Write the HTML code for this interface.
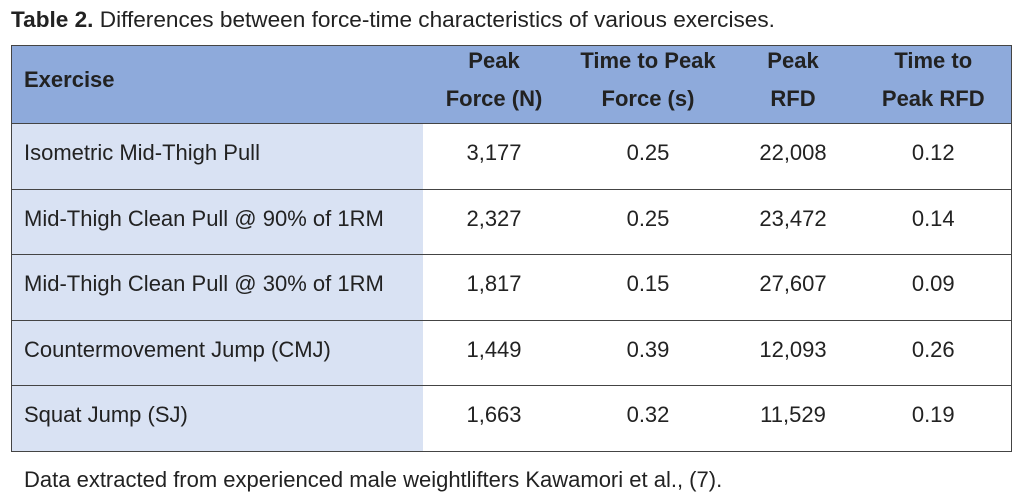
<!DOCTYPE html>
<html><head><meta charset="utf-8"><style>
body{margin:0;width:1024px;height:499px;background:#fff;font-family:"Liberation Sans",Arial,sans-serif;color:#222;position:relative;overflow:hidden}
.t{position:absolute;left:11px;top:7px;font-size:22.6px}
.f{position:absolute;left:24px;top:467px;font-size:22px}
table{position:absolute;left:11px;top:45px;border-collapse:collapse;width:1000px;border:1px solid #444;table-layout:fixed}
td,th{border-top:1px solid #444;font-size:22px;padding:0;box-sizing:border-box}
th{background:#8eaadb;height:78px;font-weight:bold;text-align:center;border-top:none;vertical-align:middle}
th div{line-height:38px;position:relative;top:-5px}
th.e{text-align:left;padding-left:12px}
td{height:65.5px;text-align:center;padding-bottom:6px}
td.e{background:#d9e2f3;text-align:left;padding-left:12px}
</style></head><body>
<div class="t"><b>Table 2.</b> Differences between force-time characteristics of various exercises.</div>
<table>
<colgroup><col style="width:411px"><col style="width:143px"><col style="width:165px"><col style="width:125px"><col style="width:156px"></colgroup>
<tr><th class="e"><div>Exercise</div></th><th><div>Peak<br>Force (N)</div></th><th><div>Time to Peak<br>Force (s)</div></th><th><div>Peak<br>RFD</div></th><th><div>Time to<br>Peak RFD</div></th></tr>
<tr><td class="e">Isometric Mid-Thigh Pull</td><td>3,177</td><td>0.25</td><td>22,008</td><td>0.12</td></tr>
<tr><td class="e">Mid-Thigh Clean Pull @ 90% of 1RM</td><td>2,327</td><td>0.25</td><td>23,472</td><td>0.14</td></tr>
<tr><td class="e">Mid-Thigh Clean Pull @ 30% of 1RM</td><td>1,817</td><td>0.15</td><td>27,607</td><td>0.09</td></tr>
<tr><td class="e">Countermovement Jump (CMJ)</td><td>1,449</td><td>0.39</td><td>12,093</td><td>0.26</td></tr>
<tr><td class="e">Squat Jump (SJ)</td><td>1,663</td><td>0.32</td><td>11,529</td><td>0.19</td></tr>
</table>
<div class="f">Data extracted from experienced male weightlifters Kawamori et al., (7).</div>
</body></html>
